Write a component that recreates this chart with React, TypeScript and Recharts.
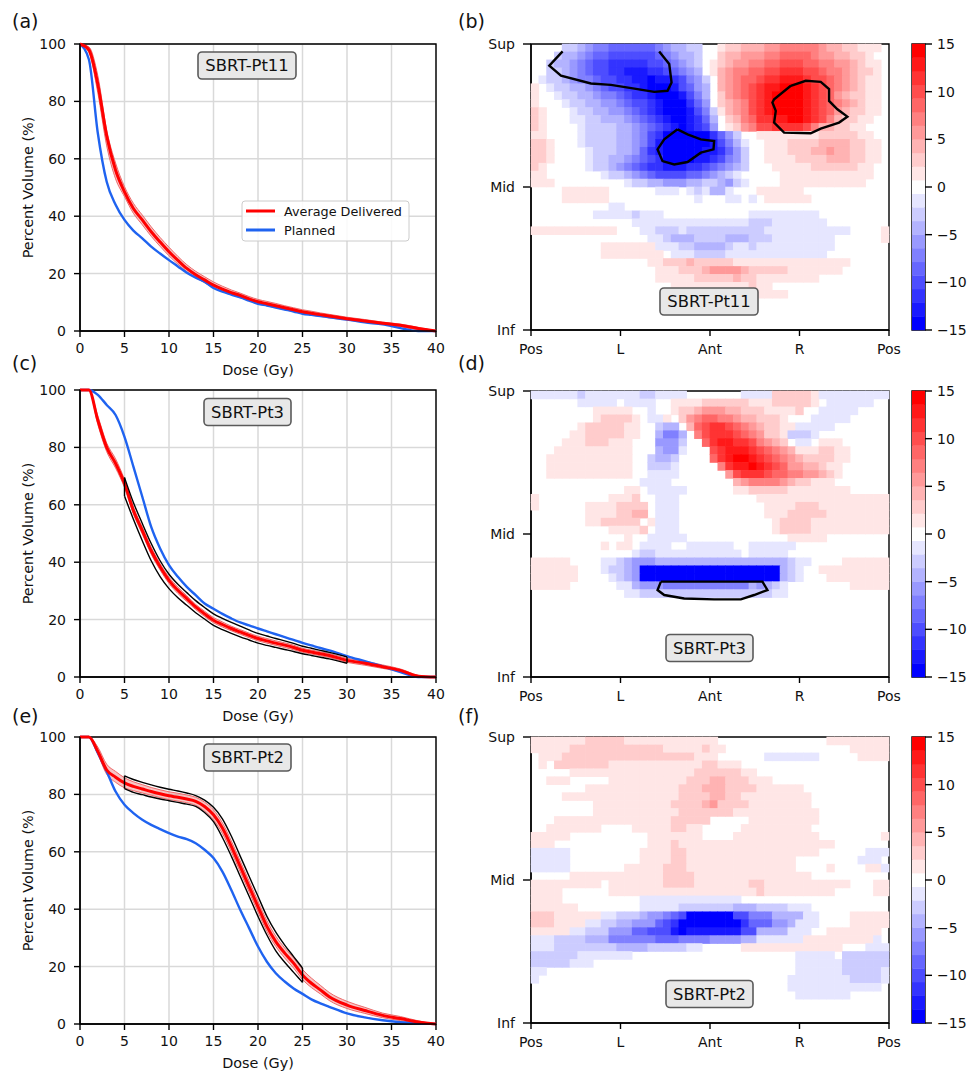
import React from "react";
import {
  ComposedChart,
  Line,
  Area,
  XAxis,
  YAxis,
  CartesianGrid,
  ReferenceLine,
  ReferenceArea,
  ScatterChart,
  Scatter,
} from "recharts";

const FONT = "'DejaVu Sans', sans-serif";
const INK = "#111";
const RED = "#ff0000";
const BLUE = "#1f63f0";

// ---------- DVH panels (a), (c), (e) ----------
const DOSE = [0, 1, 2, 3, 4, 5, 6, 7, 8, 9, 10, 11, 12, 13, 14, 15, 16, 17, 18, 19, 20, 21, 22, 23, 24, 25, 26, 27, 28, 30, 32, 34, 36, 38, 40];
const DOSE_TICKS = [0, 5, 10, 15, 20, 25, 30, 35, 40];
const VOLUME_TICKS = [0, 20, 40, 60, 80, 100];

// SBRT-Pt11
const A_PLANNED = [100, 94.6, 69, 52, 44, 38.7, 35, 32.3, 29.4, 27, 24.7, 22.5, 20.3, 18.6, 17.2, 15, 13.7, 12.7, 11.7, 10.6, 9.5, 8.9, 8.2, 7.5, 6.8, 6.0, 5.6, 5.2, 4.8, 4.0, 3.0, 2.3, 1.0, 0, 0];
const A_DELIVERED = [100, 98, 86, 68, 56, 48.5, 42.7, 38.7, 34.6, 31, 27.6, 24.6, 21.8, 19.6, 17.8, 16, 14.6, 13.4, 12.4, 11.2, 10.2, 9.5, 8.8, 8.1, 7.4, 6.7, 6.2, 5.7, 5.2, 4.3, 3.5, 2.7, 2.0, 0.9, 0];
const A_LO = [100, 97, 83, 64.5, 53, 46.8, 41, 37, 33, 29.5, 26.2, 23.3, 20.7, 18.6, 16.8, 15.1, 13.8, 12.7, 11.6, 10.5, 9.4, 8.8, 8.1, 7.4, 6.8, 6.1, 5.6, 5.1, 4.6, 3.8, 3.1, 2.3, 1.5, 0.4, 0];
const A_HI = [100, 99, 89, 70, 58.5, 50.3, 44.5, 40.4, 36.3, 32.6, 29.2, 26, 23.1, 20.8, 18.9, 17.1, 15.6, 14.3, 13.2, 12.0, 11.0, 10.3, 9.6, 8.8, 8.1, 7.4, 6.9, 6.3, 5.8, 4.8, 4.0, 3.1, 2.4, 1.3, 0];

// SBRT-Pt3
const C_PLANNED = [100, 100, 98.3, 94.8, 91.3, 83.7, 73.3, 62.8, 52.3, 44.8, 39, 34.9, 31.4, 28.5, 25.6, 23.8, 22, 20.4, 19, 18, 16.9, 15.9, 14.9, 13.9, 12.9, 11.9, 11, 10.1, 9.3, 7.3, 5.5, 3.7, 1.7, 0, 0];
const C_DELIVERED = [100, 100, 89.5, 80, 74.4, 67.4, 58, 51, 44, 38.4, 33.7, 30.2, 27.3, 24.4, 22, 19.8, 18.3, 16.9, 15.7, 14.5, 13.4, 12.6, 11.8, 11.1, 10.3, 9.3, 8.7, 8.1, 7.5, 5.8, 4.8, 3.6, 2.3, 0.3, 0];
const C_LO = [100, 100, 88, 78.5, 72.8, 66, 56.8, 49.8, 42.8, 37.3, 32.6, 29.1, 26.3, 23.5, 21.1, 18.9, 17.4, 16.1, 14.9, 13.7, 12.6, 11.8, 11, 10.3, 9.5, 8.6, 8, 7.4, 6.8, 5.1, 4.1, 3.0, 1.8, 0, 0];
const C_HI = [100, 100, 91, 81.5, 76, 68.8, 59.2, 52.2, 45.2, 39.5, 34.8, 31.3, 28.3, 25.3, 22.9, 20.7, 19.2, 17.7, 16.5, 15.3, 14.2, 13.4, 12.6, 11.9, 11.1, 10, 9.4, 8.8, 8.2, 6.5, 5.5, 4.2, 2.8, 0.6, 0];
const C_OUT_DOSE = [5, 6, 7, 8, 9, 10, 11, 12, 13, 14, 15, 16, 17, 18, 19, 20, 21, 22, 23, 24, 25, 26, 27, 28, 30];
const C_OUT_HI = [69.5, 60.8, 53.5, 46.5, 40.5, 35.8, 32.3, 29.4, 26.6, 24.2, 22, 20.4, 19, 17.7, 16.4, 15.2, 14.3, 13.4, 12.6, 11.7, 10.7, 10, 9.3, 8.6, 7.0];
const C_OUT_LO = [63, 55, 47.5, 40.5, 35, 30.8, 27.6, 25, 22.4, 20.2, 18, 16.5, 15.2, 14, 12.9, 11.8, 11, 10.3, 9.6, 8.9, 8.1, 7.5, 6.9, 6.3, 4.8];

// SBRT-Pt2
const E_PLANNED = [100, 100, 94.4, 88, 81, 76.4, 73.5, 71.2, 69.4, 67.9, 66.5, 65.3, 64.4, 63, 60.7, 57.8, 53.1, 46.7, 39.8, 33.4, 27, 21.7, 17.7, 14.8, 12.4, 10.5, 8.6, 7.2, 6, 3.7, 2.3, 1.3, 0.6, 0.2, 0];
const E_DELIVERED = [100, 100, 95, 88.5, 86, 84, 82.8, 81.9, 81, 80.2, 79.5, 79, 78.4, 77.6, 75.8, 72.9, 68.3, 61.9, 54.9, 47.9, 40.9, 34, 28.7, 24.7, 21.2, 17.1, 14.2, 11.9, 9.5, 6.6, 4.7, 3, 1.9, 0.7, 0];
const E_LO = [100, 100, 94, 87, 84.2, 82.3, 81.3, 80.5, 79.7, 78.9, 78.2, 77.7, 77.1, 76.2, 74.2, 71.1, 66.4, 60, 53, 46, 39, 32.2, 27, 23, 19.5, 15.5, 12.7, 10.5, 8.2, 5.4, 3.7, 2.2, 1.2, 0.3, 0];
const E_HI = [100, 100, 96.5, 90.5, 88, 85.8, 84.4, 83.4, 82.4, 81.6, 80.9, 80.4, 79.8, 79, 77.3, 74.6, 70.1, 63.8, 56.8, 49.8, 42.8, 36, 30.6, 26.5, 23, 19, 16, 13.5, 11, 7.9, 5.8, 3.8, 2.6, 1.1, 0];
const E_OUT_DOSE = [5, 6, 7, 8, 9, 10, 11, 12, 13, 14, 15, 16, 17, 18, 19, 20, 21, 22, 23, 24, 25];
const E_OUT_HI = [86.5, 85.2, 84.2, 83.3, 82.5, 81.8, 81.2, 80.5, 79.6, 78, 75.5, 71.5, 65.5, 58.5, 51.5, 44.5, 37.5, 32, 27.5, 23.5, 19.5];
const E_OUT_LO = [82, 80.7, 79.9, 79.1, 78.4, 77.8, 77.2, 76.6, 75.8, 73.7, 70.5, 65, 58.5, 51.5, 44.5, 37.5, 31, 25.5, 21.5, 18, 14.5];

// ---------- difference maps (b), (d), (f) ----------
// one char per cell, rows listed Sup -> Inf; J..A = -10..-1, '.' = 0, a..j = 1..10
const LEVEL_CHARS = "JIHGFEDCBA.abcdefghij";
const NCOL = 46;
const NROW = 36;
const AROUND_TICKS = [0, 11.5, 23, 34.5, 46];
const AROUND_LABELS = ["Pos", "L", "Ant", "R", "Pos"];
const LEVEL_TICKS = [0, 18, 36];
const LEVEL_LABELS = ["Inf", "Mid", "Sup"];
const CBAR_LEVELS = [-10, -9, -8, -7, -6, -5, -4, -3, -2, -1, 0, 1, 2, 3, 4, 5, 6, 7, 8, 9, 10];
const CBAR_TICKS = [-15, -10, -5, 0, 5, 10, 15];

const B_ROWS = [
  "....BBCDEEFFFFFFEDCCBB..abbcccddeeeeedccbbaaa.",
  "...BCCDEFFGGGGGGFEDCCB..bccdddeeffffeddccbba..",
  "..BCCDEFGGHHHHHGGFEDCB.abcddeeffgggffeeddcbaa.",
  "..BBCDEFGGHHIIIHHGFEDC.acdeeffgghhhggfeedcbba.",
  ".ABBCDEEFGGHHIIJIIHGEDB.cdeffghhiiihggfedcbaa.",
  "a.ABBCCDEFGGHHIJJJIGFDC.cdefghiijjjihgfedcbaa.",
  "a..ABBCCDEEFGHHIJJJIGEC.bdefghijjjjihgfdcbbaa.",
  "a...ABBCCDDEFGGHIJJJHFD.bcdeghijjjjihgfedcbaa.",
  "ba...ABBCCDDEFGHIJJJIGEBacdeghijjjjihgfdcbbaa.",
  "ba...AABBCCCDEFGHIJJIHFC.bcefhhiijjihgecbbaa..",
  "ba....ABBBBCCDEFGHIJIHGD.abdegghhhhgeccbbaa...",
  "aa....ABBBBCCDEGHJJJJJJHFDB..aaaaaaaabbbbbaa..",
  "bba...ABBBBCCDEGIJJJJJJIGECA..aaabbbbccccbbaa.",
  "bba....ABBBCCDFHIJJJJJIIHFDB..aaabbbccdccbbaa.",
  "bba....ABBCCDEFGHJJJJIIHGEDB..aaaabbbbcccbbaa.",
  "ba.....ABBCDEFGHHIIIHHGFEDCB...aaaaabbbbbbaa..",
  "aa.......ABBCDEFGGGGFFEDCBA.....aaaaaaaaaaaa..",
  "aaa.........ABBCCDDDCCBBCDBA....aaaaaaaaaaa...",
  "....aaaaaa......AAA.ABACCA...aaaaaa..........",
  "....aaaaaa...........A...AA.A.aaaaaa.........",
  "..........AA..................................",
  "........AAAAABAAA...........AAAAAAAAA.........",
  ".............AAAAAAAAAAAAAAABBBAAAAAAA........",
  "aaaaaaaaaaa...AABBBABBBBBBBBBBAAAAAAAAAAA....a",
  "...............AABCCCBBBBCCCBBBAAAAAAAA......a",
  ".........aaaaaaaAAABBCCCCBAABAAAAAAAAAA.......",
  ".........aaaaaaaa.AAABBBBAAAAAAAAAAAAA........",
  "...............aabbbcbbbbbaaaaaaaaaaaaaaa.....",
  "................aaabbbcddddcbbbbbaaaaaaa......",
  "................aaaaabbbbbcbbaaaaaaaa.........",
  "..................aaaaaaaaaabaa...............",
  "......................aaaaaaaaaaa.............",
];

const D_ROWS = [
  "AAAAAABAAAAAAABBAAAA.......AAAAbbbbbaAAAAAAAAA",
  "......AAAAA.AAAA..aaaabbbbbbaaabbbbba.AAAAAA..",
  "........aaaaa..A..abbcdddccbbbaaaab..AAAAA....",
  "........abbbba.AAa.bdeffeedccbbba...AAAAA.....",
  "......abbbbbaa..BCC.cfghhgfedcbbaaAAAAA.......",
  ".....aabbbbbaa..CEEC.eghhhgfedbbaBBBA.........",
  "....aaabbbaaa...DDDB..fhiihhgedcb.AA.aaa......",
  "...aaaaaaaaaa...CDDA...ghiiihgfedcaaabbaa.....",
  "..aaaaaaaaaaa..BCCB....fhijjihgfedcbbbbaa.....",
  "..aaaaaaaaaaa..BBBA.....ehiijihgfddccbaa......",
  "..aaaaaaaaaaa..AAAA......dghhhgffeeddcba......",
  "..............AAAA........cdeeeedcbbaaa.......",
  "............aa.AAAAA......aabbbbbaaaaaaaa.....",
  "a.........aaab..AAA..........aaaaaaaaaaaaaaaaa",
  "a......aaaabbbb.AAA...........aaaabbbaaaaaaaaa",
  ".......aaaabbcc.AAA...........aaabbbbbaaaaaaaa",
  ".......aabbbbb.aAAA............abbbbaaaaaaaaaa",
  "..........aaaab.AAA............abbbbaaaaaaaaaa",
  "............a..AAAAA.............aaaaa........",
  ".........a.aa.AAAA..AAAAAA..AAAAAA............",
  ".............ABBAAAAAAAAAAA.AAAAA.............",
  "aaaaa....AABCDDDCCCCCCCCCCCCCCCCCBAA....aaaaaa",
  "aaaaaa...ABBCDJJJJJJJJJJJJJJJJJJCBA..aaaaaaaaa",
  "aaaaaa....ABCDJJJJJJJJJJJJJJJJJJCBA...aaaaaaaa",
  "aaaaa......AACDDDEEEEEEEEEEECDCBA........aaaaa",
  "............AABBBBBBBBBBBBBBBBBAA.............",
];

const F_ROWS = [
  "aaaaaaabbbbbaaaaaaaaaaaa..............aaaaaaaa",
  "aaaaabbbbbbbbbbbbaaaaabaa................aaaaa",
  ".aaabbbbbbbbbbbbbbbbbaaa......AAAAAAA.....aaaa",
  ".a.bbbbbbbaaaaaaaaaaaabbaaa...................",
  ".....aaaaaaaaaaaaaaaabbbbbbaa.................",
  "..aaa.....aaaaaaaaaabbbccbbbaaa...............",
  ".......aaaaaaaaaaaabbbcccbbbbaaaaaa...........",
  "....aaaaaaaaaaaaaaabbbbccbbaaaaaaaaa..........",
  "........aaaaaaaaaabbbbcdbbbbaaaaaaaa..........",
  "........aaaaaaaaaaabbbbbbbaaaaaaaaaaa.........",
  "...aaaaaaaaaaaaaaabbbbb.....aaaaaaaaa.........",
  "..aaaaaaa....aaaaabbaa.....aaaaaaaaa..........",
  "aaaaa..........aaaaaaa....aaaaaaaaaaa........a",
  "aaa............aaabaaaaaaaaaaaaaaaaaaaa.......",
  "AAAAA.........aaaabbaaaaaaaaaaaaaaaaa......AAA",
  "AAAAA.........aaaabbaaaaaaaaaaaaaa........AAA.",
  "AAAAA.......aaaaabbbaaaaaaaaaaaaaa....a....aaA",
  ".....aaaaaaaaaaaabbbbaaaaaaaaaaaaaaa..........",
  "aaaaaaaaa.aaaaaaabbbbaaaaaaabbaaaaaaaaaaa...aa",
  "aaaa......aaaaaaaaaaaaaaaaaaabaaaaaaaaa.....aa",
  "aaaa..........AAAAAAAAAAAAA...................",
  "aaaaaa........AAAAABBBBBBBCCCBBBBAAA..........",
  "bbbaaaaaaAABBBCDDEFGJJJJJJGGEEECCCCAA....aaaaa",
  "bbbaaaaAABBCCDDDFGHJJJJJJJJHFFFDDCAAA....aaaaa",
  "aaaaaAABBBDDDFFGGGIJIIIIIIIGGCCCCAAA..aaaaaaa.",
  "AAABBBBCCCEEEEEEFFFEEEEDDDDCCAAAAAAaaaaaaaaaA.",
  "AAABBBBBBBBCCCCBBBBBAA.....aaaaaaaaaaaaa...AAA",
  "BBBBBBAAAAAAA.....................AAAAA.BBBBBB",
  "BBBBBAAA..........................AAAAAABBBBBB",
  "AA................................AAAAAABBBBBA",
  "A................................AAAAAAAABBBBA",
  ".................................AAAAAAAAAAAA.",
  "..................................AAAAAAA.....",
];

// outlined regions, in cell units (x: columns from Pos, y: rows from Inf)
const B_CONTOURS = [
  [[4.06, 35.07], [2.35, 33.26], [3.85, 32.0], [7.7, 31.03], [10.27, 30.86], [13.69, 30.32], [15.83, 29.98], [17.54, 30.11], [18.06, 31.16], [17.76, 33.47], [16.47, 35.07]],
  [[18.83, 25.26], [17.12, 24.0], [16.26, 22.74], [16.9, 21.26], [18.4, 20.84], [20.11, 21.14], [21.82, 22.32], [23.45, 22.74], [23.53, 23.79], [21.82, 24.0], [20.11, 24.63], [18.83, 25.26]],
  [[33.38, 30.74], [31.24, 29.05], [31.02, 28.63], [31.45, 27.58], [31.24, 26.11], [32.52, 24.84], [35.94, 24.76], [37.23, 25.35], [39.58, 26.11], [40.65, 26.86], [39.37, 27.79], [38.3, 28.84], [38.3, 30.32], [37.23, 31.24], [35.3, 31.37], [33.38, 30.74]],
];
const D_CONTOURS = [
  [[16.69, 12.0], [16.26, 10.95], [17.12, 10.32], [19.68, 9.89], [23.53, 9.77], [26.96, 9.77], [28.67, 10.32], [30.38, 10.95], [29.74, 12.0], [16.69, 12.0]],
];

// ---------- layout ----------
const DVH_W = 356;
const DVH_H = 287;
const HEAT_W = 358;
const HEAT_H = 286;
const ROW_TOPS = [44, 390, 737];
const CELL_W = HEAT_W / NCOL;
const CELL_H = HEAT_H / NROW;
const BAND_H = HEAT_H / CBAR_LEVELS.length;

const TICK = { fontSize: 14, fill: INK, fontFamily: FONT };
const AXIS = { stroke: "#000", strokeWidth: 1.4 };

function bwr(k: number) {
  const c = Math.round(255 * (1 - Math.abs(k) / 10));
  return k >= 0 ? `rgb(255,${c},${c})` : `rgb(${c},${c},255)`;
}

function dvhRows(planned: number[], delivered: number[], lo: number[], hi: number[], od?: number[], olo?: number[], ohi?: number[]) {
  return DOSE.map((d, i) => {
    const j = od ? od.indexOf(d) : -1;
    return {
      dose: d,
      planned: planned[i],
      delivered: delivered[i],
      band: [lo[i], hi[i]],
      outLo: j >= 0 && olo ? olo[j] : null,
      outHi: j >= 0 && ohi ? ohi[j] : null,
    };
  });
}

function heatCells(rows: string[]) {
  const out: { x: number; y: number; k: number }[] = [];
  rows.forEach((row, r) => {
    const line = row.padEnd(NCOL, ".").slice(0, NCOL);
    for (let c = 0; c < NCOL; c++) {
      const k = LEVEL_CHARS.indexOf(line[c]) - 10;
      if (k !== 0 && k >= -10) out.push({ x: c + 0.5, y: NROW - r - 0.5, k });
    }
  });
  return out;
}

const toPoints = (c: number[][]) => c.map(([x, y]) => ({ x, y }));

const YTitle = (props: any) => {
  const vb = props.viewBox || { x: 0, y: 0, width: 0, height: 0 };
  const x = vb.x + props.inset;
  const y = vb.y + vb.height / 2;
  return (
    <text x={x} y={y} transform={`rotate(-90 ${x} ${y})`} textAnchor="middle" fontSize={14.4} fontFamily={FONT} fill={INK}>
      {props.title}
    </text>
  );
};

const XTitle = (props: any) => {
  const vb = props.viewBox || { x: 0, y: 0, width: 0, height: 0 };
  return (
    <text x={vb.x + vb.width / 2} y={vb.y + props.drop} textAnchor="middle" fontSize={14.4} fontFamily={FONT} fill={INK}>
      {props.title}
    </text>
  );
};

const HeatCell = (props: any) => {
  const { cx, cy, payload } = props;
  return <rect x={cx - CELL_W / 2 - 0.3} y={cy - CELL_H / 2 - 0.3} width={CELL_W + 0.6} height={CELL_H + 0.6} fill={bwr(payload.k)} />;
};

const BandCell = (props: any) => {
  const { cx, cy, payload } = props;
  return <rect x={cx - 6.5} y={cy - BAND_H / 2 - 0.2} width={13} height={BAND_H + 0.4} fill={bwr(payload.k)} />;
};

const NoMark = () => <g />;

type DvhProps = {
  top: number;
  rows: ReturnType<typeof dvhRows>;
  outline?: { dose: number[]; lo: number[]; hi: number[] };
};

function DvhPanel({ top, rows, outline }: DvhProps) {
  const first = outline ? 0 : -1;
  const last = outline ? outline.dose.length - 1 : -1;
  return (
    <div style={{ position: "absolute", left: 0, top: top - 14 }}>
      <ComposedChart width={80 + DVH_W + 14} height={14 + DVH_H + 49} data={rows} margin={{ top: 14, right: 14, bottom: 9, left: 0 }}>
        <CartesianGrid stroke="#d9d9d9" strokeWidth={1.5} />
        <XAxis
          type="number"
          dataKey="dose"
          domain={[0, 40]}
          ticks={DOSE_TICKS}
          height={40}
          tickSize={6}
          tickMargin={6}
          tick={TICK}
          axisLine={AXIS}
          tickLine={AXIS}
          label={<XTitle title="Dose (Gy)" drop={44} />}
        />
        <YAxis
          type="number"
          domain={[0, 100]}
          ticks={VOLUME_TICKS}
          width={80}
          tickSize={6}
          tickMargin={8}
          tick={TICK}
          axisLine={AXIS}
          tickLine={AXIS}
          label={<YTitle title="Percent Volume (%)" inset={33} />}
        />
        <Area type="monotone" dataKey="band" stroke="#ec6a6a" strokeWidth={1} fill="#f07c7c" fillOpacity={0.45} isAnimationActive={false} />
        <Line type="monotone" dataKey="planned" stroke={BLUE} strokeWidth={2.4} dot={false} isAnimationActive={false} />
        <Line type="monotone" dataKey="delivered" stroke={RED} strokeWidth={3} dot={false} isAnimationActive={false} />
        {outline && <Line type="monotone" dataKey="outHi" stroke="#000" strokeWidth={1.4} dot={false} isAnimationActive={false} />}
        {outline && <Line type="monotone" dataKey="outLo" stroke="#000" strokeWidth={1.4} dot={false} isAnimationActive={false} />}
        {outline && (
          <ReferenceLine
            segment={[
              { x: outline.dose[first], y: outline.lo[first] },
              { x: outline.dose[first], y: outline.hi[first] },
            ]}
            stroke="#000"
            strokeWidth={1.4}
          />
        )}
        {outline && (
          <ReferenceLine
            segment={[
              { x: outline.dose[last], y: outline.lo[last] },
              { x: outline.dose[last], y: outline.hi[last] },
            ]}
            stroke="#000"
            strokeWidth={1.4}
          />
        )}
        <ReferenceArea x1={0} x2={40} y1={0} y2={100} fill="none" fillOpacity={0} stroke="#000" strokeWidth={1.4} />
      </ComposedChart>
    </div>
  );
}

function HeatPanel({ top, rows, contours }: { top: number; rows: string[]; contours: number[][][] }) {
  const cells = heatCells(rows);
  return (
    <div style={{ position: "absolute", left: 450, top: top - 14 }}>
      <ScatterChart width={81 + HEAT_W + 21} height={14 + HEAT_H + 40} margin={{ top: 14, right: 21, bottom: 10, left: 0 }}>
        <XAxis
          type="number"
          dataKey="x"
          domain={[0, NCOL]}
          ticks={AROUND_TICKS}
          tickFormatter={(v: number) => AROUND_LABELS[AROUND_TICKS.indexOf(v)]}
          height={30}
          tickSize={6}
          tickMargin={8}
          tick={TICK}
          axisLine={AXIS}
          tickLine={AXIS}
        />
        <YAxis
          type="number"
          dataKey="y"
          domain={[0, NROW]}
          ticks={LEVEL_TICKS}
          tickFormatter={(v: number) => LEVEL_LABELS[LEVEL_TICKS.indexOf(v)]}
          width={81}
          tickSize={8}
          tickMargin={8}
          tick={TICK}
          axisLine={AXIS}
          tickLine={AXIS}
        />
        <Scatter data={cells} shape={HeatCell} isAnimationActive={false} />
        {contours.map((c, i) => (
          <Scatter key={i} data={toPoints(c)} line={{ stroke: "#000", strokeWidth: 2.4 }} shape={NoMark} isAnimationActive={false} />
        ))}
        <ReferenceArea x1={0} x2={NCOL} y1={0} y2={NROW} fill="none" fillOpacity={0} stroke="#000" strokeWidth={1.4} />
      </ScatterChart>
    </div>
  );
}

function ColorBar({ top }: { top: number }) {
  const bands = CBAR_LEVELS.map((k) => ({ x: 0.5, y: (k * 30) / CBAR_LEVELS.length, k }));
  return (
    <div style={{ position: "absolute", left: 900, top: top - 14 }}>
      <ScatterChart width={72} height={14 + HEAT_H + 40} margin={{ top: 14, right: 0, bottom: 40, left: 12 }}>
        <XAxis type="number" dataKey="x" domain={[0, 1]} hide />
        <YAxis
          type="number"
          dataKey="y"
          domain={[-15, 15]}
          orientation="right"
          ticks={CBAR_TICKS}
          tickFormatter={(v: number) => (v < 0 ? `\u2212${-v}` : `${v}`)}
          width={47}
          tickSize={7}
          tickMargin={5}
          tick={TICK}
          axisLine={false}
          tickLine={AXIS}
        />
        <Scatter data={bands} shape={BandCell} isAnimationActive={false} />
        <ReferenceArea x1={0} x2={1} y1={-15} y2={15} fill="none" fillOpacity={0} stroke="#000" strokeWidth={1.4} />
      </ScatterChart>
    </div>
  );
}

const LETTERS = [
  { t: "(a)", x: 12, y: 28 },
  { t: "(b)", x: 458, y: 28 },
  { t: "(c)", x: 12, y: 370 },
  { t: "(d)", x: 458, y: 370 },
  { t: "(e)", x: 12, y: 723 },
  { t: "(f)", x: 458, y: 723 },
];

const TAGS = [
  { t: "SBRT-Pt11", cx: 247, cy: 65.5, w: 98 },
  { t: "SBRT-Pt11", cx: 709, cy: 301.5, w: 98 },
  { t: "SBRT-Pt3", cx: 247.5, cy: 412, w: 87 },
  { t: "SBRT-Pt3", cx: 709.5, cy: 648, w: 87 },
  { t: "SBRT-Pt2", cx: 247.5, cy: 757.5, w: 87 },
  { t: "SBRT-Pt2", cx: 709.5, cy: 994, w: 87 },
];

export default function App() {
  const rowsA = dvhRows(A_PLANNED, A_DELIVERED, A_LO, A_HI);
  const rowsC = dvhRows(C_PLANNED, C_DELIVERED, C_LO, C_HI, C_OUT_DOSE, C_OUT_LO, C_OUT_HI);
  const rowsE = dvhRows(E_PLANNED, E_DELIVERED, E_LO, E_HI, E_OUT_DOSE, E_OUT_LO, E_OUT_HI);

  return (
    <div style={{ position: "absolute", left: 0, top: 0, width: 972, height: 1072, background: "#fff", fontFamily: FONT }}>
      <DvhPanel top={ROW_TOPS[0]} rows={rowsA} />
      <DvhPanel top={ROW_TOPS[1]} rows={rowsC} outline={{ dose: C_OUT_DOSE, lo: C_OUT_LO, hi: C_OUT_HI }} />
      <DvhPanel top={ROW_TOPS[2]} rows={rowsE} outline={{ dose: E_OUT_DOSE, lo: E_OUT_LO, hi: E_OUT_HI }} />

      <HeatPanel top={ROW_TOPS[0]} rows={B_ROWS} contours={B_CONTOURS} />
      <HeatPanel top={ROW_TOPS[1] + 1} rows={D_ROWS} contours={D_CONTOURS} />
      <HeatPanel top={ROW_TOPS[2]} rows={F_ROWS} contours={[]} />

      <ColorBar top={ROW_TOPS[0]} />
      <ColorBar top={ROW_TOPS[1] + 1} />
      <ColorBar top={ROW_TOPS[2]} />

      <svg width={972} height={1072} style={{ position: "absolute", left: 0, top: 0, pointerEvents: "none" }}>
        {LETTERS.map((l) => (
          <text key={l.t} x={l.x} y={l.y} fontSize={19} fontFamily={FONT} fill={INK}>
            {l.t}
          </text>
        ))}
        {TAGS.map((g, i) => (
          <g key={i}>
            <rect x={g.cx - g.w / 2} y={g.cy - 13.5} width={g.w} height={27} rx={4} fill="#e8e8e8" stroke="#5a5a5a" strokeWidth={1.6} />
            <text x={g.cx} y={g.cy + 5.9} textAnchor="middle" fontSize={16.4} fontFamily={FONT} fill={INK}>
              {g.t}
            </text>
          </g>
        ))}
        {/* legend of panel (a) */}
        <rect x={242} y={201} width={167} height={40} rx={3} fill="#fff" fillOpacity={0.85} stroke="#cccccc" strokeWidth={1} />
        <line x1={246} x2={275} y1={211} y2={211} stroke={RED} strokeWidth={3} />
        <line x1={246} x2={275} y1={230} y2={230} stroke={BLUE} strokeWidth={3} />
        <text x={284} y={215.5} fontSize={12.8} fontFamily={FONT} fill={INK}>
          Average Delivered
        </text>
        <text x={284} y={234.5} fontSize={12.8} fontFamily={FONT} fill={INK}>
          Planned
        </text>
      </svg>
    </div>
  );
}
